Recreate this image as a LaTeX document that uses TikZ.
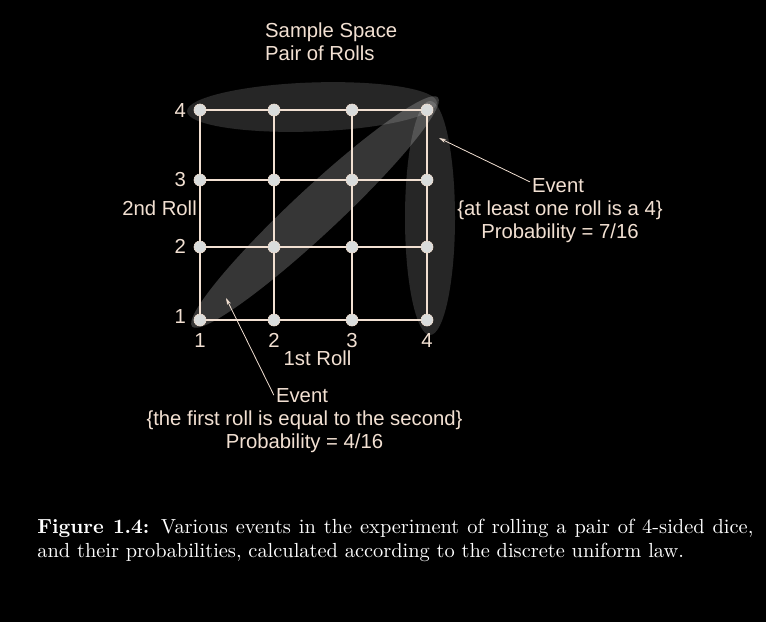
\documentclass[tikz,border=0pt]{standalone}
\usepackage{fontspec}
\newfontfamily\sansf{Liberation Sans}
\usetikzlibrary{arrows.meta}
\definecolor{beige}{HTML}{F2E0D2}
\definecolor{dotfill}{HTML}{D9DCDC}
\begin{document}
\begin{tikzpicture}[x=1pt,y=-1pt,
  lab/.style={font=\sansf\fontsize{20.3}{23.3}\selectfont, text=beige, inner sep=2pt},
  dot/.style={circle, fill=dotfill, draw=beige, line width=0.6pt, minimum size=12pt, inner sep=0pt},
  gridline/.style={draw=beige, line width=2pt},
  arr/.style={draw=beige, line width=0.8pt, -{Stealth[length=7pt,width=4pt]}},
  region/.style={fill=white, fill opacity=0.15},
  diagregion/.style={fill=white, fill opacity=0.21},
  captionnode/.style={anchor=north west, inner sep=0pt, scale=2.04, transform shape,
    text width=351pt, align=justify, text=white,
    font=\fontsize{10}{11.8}\selectfont}]
\fill[black] (0,0) rectangle (766,622);
\useasboundingbox (0,0) rectangle (766,622);
% event regions
\path[region, rotate around={2:(312,107)}] (312,107) ellipse [x radius=125, y radius=24.5];
\path[region] (430,218) ellipse [x radius=25, y radius=117];
\path[diagregion, rotate around={43:(315,212)}] (315,212) ellipse [x radius=168, y radius=23];
% grid dots
\foreach \i/\x in {1/200,2/274,3/352,4/427}
  \foreach \j/\y in {1/320,2/247,3/180,4/110}
    \node[dot] (d\i\j) at (\x,\y) {};
% grid lines
\foreach \k in {1,2,3,4} {
  \draw[gridline] (d1\k) -- (d2\k) -- (d3\k) -- (d4\k);
  \draw[gridline] (d\k1) -- (d\k2) -- (d\k3) -- (d\k4);
}
% axis labels
\node[lab, anchor=base] (x1) at (200,347) {1};
\node[lab, anchor=base] (x2) at (274,347) {2};
\node[lab, anchor=base] (x3) at (352,347) {3};
\node[lab, anchor=base] (x4) at (427,347) {4};
\node[lab, anchor=base east] (y4) at (188,117) {4};
\node[lab, anchor=base east] (y3) at (188,186) {3};
\node[lab, anchor=base east] (y2) at (188,253) {2};
\node[lab, anchor=base east] (y1) at (188,323) {1};
\node[lab, anchor=base east] (ylab) at (199,215) {2nd Roll};
\node[lab, anchor=base] (xlab) at (317.5,365) {1st Roll};
% title
\node[lab, anchor=base west] (t1) at (263,37) {Sample Space};
\node[lab, anchor=base west] (t2) at (263,60) {Pair of Rolls};
% right event
\node[lab, anchor=base] (ev1) at (558,192) {Event};
\node[lab, anchor=base] (ev1b) at (560,215) {\{at least one roll is a 4\}};
\node[lab, anchor=base] (ev1c) at (560,238) {Probability = 7/16};
% left event
\node[lab, anchor=base] (ev2) at (302,402) {Event};
\node[lab, anchor=base] (ev2b) at (304.5,425) {\{the first roll is equal to the second\}};
\node[lab, anchor=base] (ev2c) at (304.5,448) {Probability = 4/16};
% arrows
\coordinate (tip1) at (439,138);
\coordinate (tip2) at (226,298);
\path (ev1.north west) ++(0,6) coordinate (tail1);
\draw[arr] (tail1) -- (tip1);
\draw[arr] (ev2.west) -- (tip2);
% caption
\node[captionnode] (cap) at (37,519) {\textbf{Figure 1.4:} Various events in the experiment of rolling a pair of 4-sided dice, and their probabilities, calculated according to the discrete uniform law.};
\end{tikzpicture}
\end{document}
